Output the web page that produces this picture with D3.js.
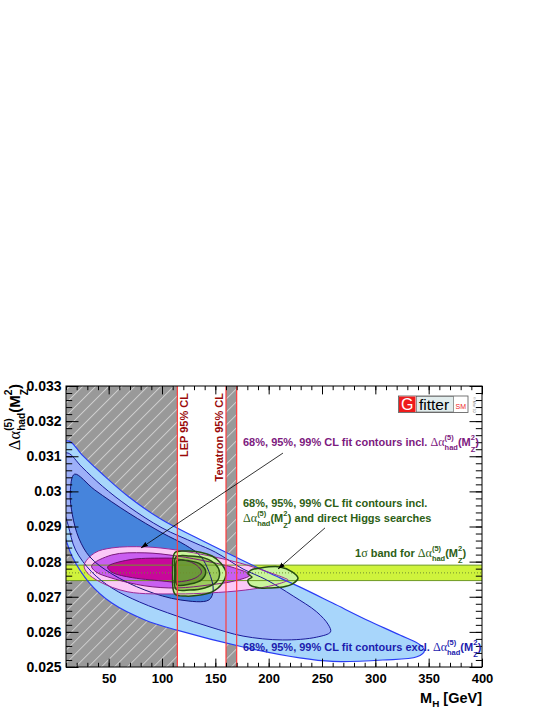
<!DOCTYPE html>
<html><head><meta charset="utf-8">
<script src="https://cdn.jsdelivr.net/npm/d3@7"></script>
<style>html,body{margin:0;padding:0;background:#fff;} svg{display:block;} text{white-space:pre;}</style>
</head><body>
<svg id="c" width="548" height="709"></svg>
<script>
// ---------------- data ----------------
const xTickValues = [50, 100, 150, 200, 250, 300, 350, 400];
const xTickLabels = ["50", "100", "150", "200", "250", "300", "350", "400"];
const yTickValues = [0.025, 0.026, 0.027, 0.028, 0.029, 0.030, 0.031, 0.032, 0.033];
const yTickLabels = ["0.025", "0.026", "0.027", "0.028", "0.029", "0.03", "0.031", "0.032", "0.033"];
const lepLimit = 114.4;
const tevatronExcl = [160, 170];
const bandCenter = 0.02768;
const bandHalfWidth = 0.00022;

// contours [M_H (GeV), delta alpha_had]
const blue99 = [[4,0.03132],[12.8,0.03143],[25,0.03104],[43.8,0.03050],[69,0.02984],[100,0.02919],[131,0.02870],[167,0.02816],[198,0.02771],[229,0.02728],[260,0.02682],[292,0.02634],[323,0.02591],[342,0.02563],[346,0.02546],[339,0.02529],[307,0.02520],[260,0.02516],[229,0.02526],[176,0.02557],[114,0.02605],[84,0.02634],[53,0.02682],[32,0.02739],[16,0.02813],[10,0.02862],[4,0.02919]];
const blue95 = [[6,0.03104],[12,0.03109],[25,0.03069],[44,0.03015],[69,0.02956],[100,0.02896],[131,0.02853],[150,0.02827],[176,0.02779],[198,0.02748],[223,0.02702],[245,0.02657],[256,0.02620],[258,0.02600],[245,0.02585],[213,0.02577],[176,0.02588],[145,0.02614],[114,0.02645],[79,0.02685],[53,0.02725],[34,0.02771],[19,0.02833],[12,0.02904],[6,0.02975]];
const blue68 = [[18,0.03049],[37,0.03004],[69,0.02938],[100,0.02882],[122,0.02847],[136,0.02816],[144,0.02771],[148,0.02719],[144,0.02691],[117,0.02691],[84,0.02719],[53,0.02765],[32.5,0.02813],[22,0.02867],[16,0.02933],[14,0.02998]];
const pink99 = [[27,0.02790],[37,0.02825],[53,0.02839],[84,0.02842],[114,0.02833],[145,0.02816],[173,0.02796],[197,0.02773],[215,0.02753],[218,0.02748],[206,0.02734],[178,0.02719],[145,0.02711],[114,0.02708],[68,0.02714],[42,0.02742],[30,0.02768]];
const pink95 = [[34,0.02788],[53,0.02819],[84,0.02825],[114,0.02816],[145,0.02799],[168,0.02782],[182.5,0.02762],[168,0.02745],[145,0.02734],[114,0.02725],[84,0.02731],[53,0.02753],[38,0.02771]];
const pink68 = [[49,0.02785],[69,0.02805],[100,0.02810],[114,0.02808],[131,0.02793],[137,0.02770],[131,0.02753],[114,0.02742],[100,0.02745],[69,0.02756],[53,0.02770]];
const greenA99 = [[112,0.02825],[122,0.02830],[136,0.02827],[147,0.02816],[155,0.02796],[160,0.02768],[156,0.02736],[147,0.02714],[136,0.02705],[122,0.02702],[112,0.02708],[110,0.02768]];
const greenA95 = [[113,0.02813],[126,0.02816],[140,0.02810],[150,0.02793],[154,0.02768],[151,0.02742],[140,0.02725],[126,0.02719],[113,0.02722],[112,0.02768]];
const greenA68 = [[114,0.02802],[126,0.02802],[136,0.02793],[141,0.02771],[137,0.02748],[126,0.02736],[114,0.02734],[113,0.02768]];
const greenB99 = [[183.4,0.02776],[192,0.02782],[210.6,0.02785],[222,0.02771],[227.5,0.02753],[222,0.02736],[213.4,0.02728],[201,0.02725],[192,0.02725],[182.5,0.02733],[180.6,0.02748],[184.4,0.02756],[180.6,0.02765]];

// annotation arrows [from, to] in data coords
const arrowPurple = [[213.4,0.03109],[80.3,0.02839]];
const arrowGreen = [[252.8,0.02896],[208.75,0.02779]];

// ---------------- chart ----------------
const SANS = "'Liberation Sans', Arial, Helvetica, sans-serif";
const SERIF = "'Liberation Serif', 'Times New Roman', serif";
const L = 66, R = 482, T = 386, B = 667;
const x = d3.scaleLinear().domain([10, 400]).range([L, R]);
const y = d3.scaleLinear().domain([0.025, 0.033]).range([B, T]);

const svg = d3.select("#c");
svg.append("rect").attr("width", 548).attr("height", 709).attr("fill", "#fff");
const defs = svg.append("defs");
defs.append("clipPath").attr("id", "clip").append("rect")
  .attr("x", L).attr("y", T).attr("width", R - L).attr("height", B - T);
const pat = defs.append("pattern").attr("id", "hatch").attr("patternUnits", "userSpaceOnUse")
  .attr("width", 9.2).attr("height", 10).attr("patternTransform", "rotate(45)");
pat.append("rect").attr("width", 9.2).attr("height", 10).attr("fill", "#999");
pat.append("line").attr("x1", 0.5).attr("x2", 0.5).attr("y1", 0).attr("y2", 10)
  .attr("stroke", "#d4d4d4").attr("stroke-width", 0.9);
defs.append("marker").attr("id", "arr").attr("viewBox", "0 0 10 10").attr("refX", 10).attr("refY", 5)
  .attr("markerWidth", 7).attr("markerHeight", 7).attr("markerUnits", "userSpaceOnUse").attr("orient", "auto")
  .append("path").attr("d", "M0,1.5L10,5L0,8.5Z").attr("fill", "#000");

const plot = svg.append("g").attr("clip-path", "url(#clip)");
const line = d3.line().x(d => x(d[0])).y(d => y(d[1])).curve(d3.curveCatmullRomClosed.alpha(0.5));

// excluded regions
plot.append("rect").attr("x", x(10)).attr("y", T).attr("width", x(lepLimit) - x(10)).attr("height", B - T).attr("fill", "url(#hatch)");
plot.append("rect").attr("x", x(tevatronExcl[0])).attr("y", T).attr("width", x(tevatronExcl[1]) - x(tevatronExcl[0])).attr("height", B - T).attr("fill", "url(#hatch)");

// fills
const fill = (data, color) => plot.append("path").attr("d", line(data)).attr("fill", color).attr("stroke", "none");
fill(blue99, "#a8d6fb");
fill(blue95, "#9db0f8");
fill(blue68, "#4684dc");
plot.append("rect").attr("x", L).attr("width", R - L)
  .attr("y", y(bandCenter + bandHalfWidth)).attr("height", y(bandCenter - bandHalfWidth) - y(bandCenter + bandHalfWidth))
  .attr("fill", "#cff33c");
fill(pink99, "#fbc8f7");
fill(pink95, "#c95ef0");
fill(pink68, "#c8079b");
fill(greenA99, "#caf59c");
fill(greenA95, "#9dcc5e");
fill(greenA68, "#6c9a3a");
fill(greenB99, "#caf59c");

// band lines
[bandCenter + bandHalfWidth, bandCenter - bandHalfWidth].forEach(v =>
  plot.append("line").attr("x1", L).attr("x2", R).attr("y1", y(v)).attr("y2", y(v)).attr("stroke", "#6f9a24").attr("stroke-width", 1));
plot.append("line").attr("x1", L).attr("x2", R).attr("y1", y(bandCenter)).attr("y2", y(bandCenter))
  .attr("stroke", "#6f8f2f").attr("stroke-width", 1).attr("stroke-dasharray", "1,2");

// outlines
const outline = (data, color, w) => plot.append("path").attr("d", line(data)).attr("fill", "none").attr("stroke", color).attr("stroke-width", w);
outline(blue99, "#2a3cf5", 1.2);
outline(blue95, "#1a1a9a", 1);
outline(blue68, "#14147a", 1);
outline(pink99, "#992a99", 1);
outline(pink95, "#7a1a7a", 1);
outline(pink68, "#6a106a", 1);
outline(greenA99, "#244d10", 1.5);
outline(greenA95, "#244d10", 1.5);
outline(greenA68, "#244d10", 1.5);
outline(greenB99, "#244d10", 1.5);

// red exclusion boundaries
[lepLimit, tevatronExcl[0], tevatronExcl[1]].forEach(v =>
  svg.append("line").attr("x1", x(v)).attr("x2", x(v)).attr("y1", T).attr("y2", B)
    .attr("stroke", "#ff3b3b").attr("stroke-width", 1.2));

// axes
const ax = svg.append("g").attr("font-family", SANS);
const styleAxis = g => { g.select(".domain").remove(); g.selectAll("line").attr("stroke", "#000"); };
const xMinor = d3.range(0, 40).map(i => 10 + i * 10);
const yMinor = d3.range(0, 41).map(i => 0.025 + i * 0.0002);
ax.append("g").attr("transform", `translate(0,${B})`)
  .call(d3.axisBottom(x).tickValues(xMinor).tickFormat("").tickSize(-4.2)).call(styleAxis);
ax.append("g").attr("transform", `translate(0,${B})`)
  .call(d3.axisBottom(x).tickValues(xTickValues).tickFormat((d, i) => xTickLabels[i]).tickSize(-8.4).tickPadding(7))
  .call(styleAxis)
  .call(g => g.selectAll("text").attr("font-size", 13).attr("font-weight", "bold").attr("fill", "#000"));
ax.append("g").attr("transform", `translate(0,${T})`)
  .call(d3.axisTop(x).tickValues(xMinor).tickFormat("").tickSize(-4.2)).call(styleAxis);
ax.append("g").attr("transform", `translate(0,${T})`)
  .call(d3.axisTop(x).tickValues(xTickValues).tickFormat("").tickSize(-8.4)).call(styleAxis);
ax.append("g").attr("transform", `translate(${L},0)`)
  .call(d3.axisLeft(y).tickValues(yMinor).tickFormat("").tickSize(-6.2)).call(styleAxis);
ax.append("g").attr("transform", `translate(${L},0)`)
  .call(d3.axisLeft(y).tickValues(yTickValues).tickFormat((d, i) => yTickLabels[i]).tickSize(-12.5).tickPadding(4.5))
  .call(styleAxis)
  .call(g => g.selectAll("text").attr("font-size", 14).attr("font-weight", "bold").attr("fill", "#000"));
ax.append("g").attr("transform", `translate(${R},0)`)
  .call(d3.axisRight(y).tickValues(yMinor).tickFormat("").tickSize(-6.2)).call(styleAxis);
ax.append("g").attr("transform", `translate(${R},0)`)
  .call(d3.axisRight(y).tickValues(yTickValues).tickFormat("").tickSize(-12.5)).call(styleAxis);
svg.append("rect").attr("x", L).attr("y", T).attr("width", R - L).attr("height", B - T)
  .attr("fill", "none").attr("stroke", "#000").attr("stroke-width", 1);

// rich text helper
function rich(px, py, segs, o) {
  const size = o.size, fillc = o.fill || "#000";
  const outer = svg.append("g").attr("transform", `translate(${px},${py}) rotate(${o.rotate || 0})`);
  const g = outer.append("g");
  let cx = 0;
  const put = (txt, xx, yy, sz, fam, wt) => {
    const t = g.append("text").attr("x", xx).attr("y", yy).attr("font-size", sz)
      .attr("font-family", fam).attr("font-weight", wt).attr("fill", fillc)
      .attr("xml:space", "preserve").style("white-space", "pre").text(txt);
    return t.node().getComputedTextLength();
  };
  segs.forEach(s => {
    if (s.sup !== undefined || s.sub !== undefined) {
      const ss = size * 0.68;
      let w = 0;
      if (s.sup) w = Math.max(w, put(s.sup, cx, -size * 0.55, ss, SANS, "bold"));
      if (s.sub) w = Math.max(w, put(s.sub, cx, size * (s.low || 0.35), ss, SANS, "bold"));
      cx += w;
    } else {
      const fam = s.serif ? SERIF : SANS;
      const wt = s.serif ? "normal" : "bold";
      cx += put(s.t, cx, 0, s.serif ? size * 1.1 : size, fam, wt);
    }
  });
  if (o.anchor === "end") g.attr("transform", `translate(${-cx},0)`);
  return outer;
}
const dAlpha = [{t: "Δα", serif: true}, {sup: "(5)", sub: "had"}, {t: "(M"}, {sup: "2", sub: "Z", low: 0.5}, {t: ")"}];

// axis titles
rich(20, 384, dAlpha, {size: 15, rotate: -90, anchor: "end"});
rich(R, 703, [{t: "M"}, {sub: "H", low: 0.3}, {t: " [GeV]"}], {size: 14.5, anchor: "end"});

// exclusion labels
svg.append("text").attr("transform", `translate(${x(lepLimit) + 10.5},393) rotate(-90)`)
  .attr("text-anchor", "end").attr("font-family", SANS).attr("font-weight", "bold").attr("font-size", 11)
  .attr("fill", "#9a0a0a").text("LEP 95% CL");
svg.append("text").attr("transform", `translate(${x(tevatronExcl[0]) - 3},393) rotate(-90)`)
  .attr("text-anchor", "end").attr("font-family", SANS).attr("font-weight", "bold").attr("font-size", 11)
  .attr("fill", "#9a0a0a").text("Tevatron 95% CL");

// contour labels
rich(243, 446, [{t: "68%, 95%, 99% CL fit contours incl. "}].concat(dAlpha), {size: 11, fill: "#7d1a80"});
rich(243, 506.5, [{t: "68%, 95%, 99% CL fit contours incl."}], {size: 11, fill: "#2d6015"});
rich(243, 522, dAlpha.concat([{t: " and direct Higgs searches"}]), {size: 11, fill: "#2d6015"});
rich(355, 557, [{t: "1"}, {t: "σ", serif: true}, {t: " band for "}].concat(dAlpha), {size: 11, fill: "#2d6015"});
rich(243, 651, [{t: "68%, 95%, 99% CL fit contours excl. "}].concat(dAlpha), {size: 11, fill: "#1c1cae"});

// arrows
[arrowPurple, arrowGreen].forEach(a =>
  svg.append("line").attr("x1", x(a[0][0])).attr("y1", y(a[0][1])).attr("x2", x(a[1][0])).attr("y2", y(a[1][1]))
    .attr("stroke", "#000").attr("stroke-width", 0.8).attr("marker-end", "url(#arr)"));

// Gfitter logo
const logo = svg.append("g").attr("font-family", SANS);
logo.append("rect").attr("x", 398.5).attr("y", 396).attr("width", 69.5).attr("height", 16.5).attr("fill", "#fff").attr("stroke", "#555").attr("stroke-width", 0.8);
logo.append("rect").attr("x", 399).attr("y", 396.5).attr("width", 16.5).attr("height", 15.5).attr("fill", "#ee1c1c");
logo.append("text").attr("x", 407.3).attr("y", 410).attr("text-anchor", "middle").attr("font-size", 16).attr("fill", "#fff").text("G");
logo.append("rect").attr("x", 416.3).attr("y", 396.5).attr("width", 37).attr("height", 15.5).attr("fill", "#e2eded").attr("stroke", "#555").attr("stroke-width", 0.6);
logo.append("text").attr("x", 419).attr("y", 409.5).attr("font-size", 15.5).attr("fill", "#000").text("fitter");
logo.append("text").attr("x", 455.5).attr("y", 408.5).attr("font-size", 7).attr("fill", "#ee1c1c").text("SM");
logo.append("text").attr("transform", "translate(472.5,397) rotate(90)").attr("font-size", 3.8).attr("fill", "#777").text("© Mar 10");
</script>
</body></html>
